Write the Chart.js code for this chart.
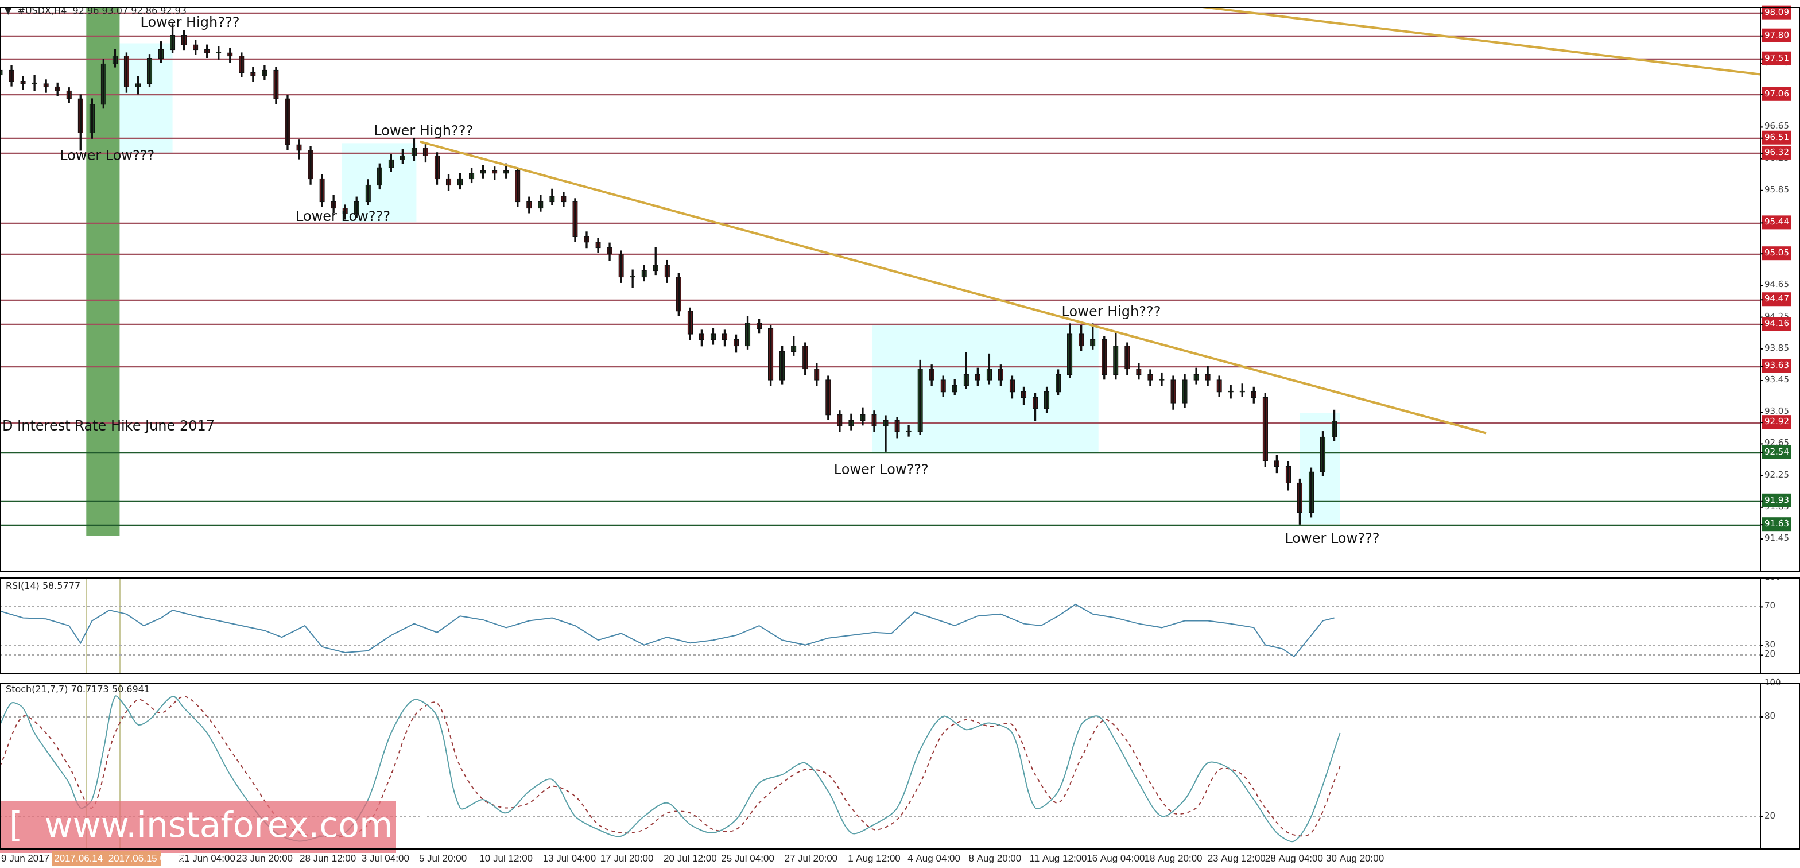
<!DOCTYPE html>
<html><head><meta charset="utf-8">
<script src="https://cdn.jsdelivr.net/npm/chart.js@4/dist/chart.umd.min.js"></script>
<style>
body{margin:0;background:#fff;overflow:hidden}
#wrap{position:absolute;left:0;top:0;width:1568px;height:756px;transform:scale(1.148);transform-origin:0 0;font-family:"DejaVu Sans",sans-serif}
canvas{position:absolute;left:0}
</style></head><body><div id="wrap">
<canvas id="cp" style="top:0;width:1568px;height:501px" width="1568" height="501"></canvas>
<canvas id="cr" style="top:503px;width:1568px;height:84px" width="1568" height="84"></canvas>
<canvas id="cs" style="top:589px;width:1568px;height:167px" width="1568" height="167"></canvas>
</div>
<script>
// ---- DATA ----
const firstOpen = 97.30;
const closes=[97.36,97.22,97.19,97.19,97.15,97.10,97.00,96.57,96.93,97.44,97.54,97.15,97.19,97.51,97.62,97.80,97.68,97.62,97.58,97.58,97.54,97.33,97.29,97.36,97.00,96.42,96.35,95.99,95.70,95.62,95.55,95.70,95.91,96.13,96.23,96.28,96.38,96.28,95.99,95.91,95.99,96.06,96.09,96.06,96.09,95.70,95.62,95.70,95.77,95.70,95.26,95.19,95.12,95.04,94.75,94.75,94.83,94.90,94.75,94.32,94.03,93.96,94.03,93.96,93.88,94.17,94.10,93.45,93.81,93.88,93.59,93.45,93.01,92.87,92.94,93.01,92.87,92.94,92.80,92.80,93.59,93.45,93.30,93.38,93.52,93.45,93.59,93.45,93.30,93.23,93.09,93.30,93.52,94.03,93.88,93.96,93.52,93.88,93.59,93.52,93.45,93.45,93.16,93.45,93.52,93.45,93.30,93.30,93.30,93.23,92.43,92.36,92.15,91.78,92.29,92.73,92.93];
const highs=[97.48,97.42,97.28,97.30,97.24,97.20,97.14,97.05,97.00,97.50,97.62,97.58,97.28,97.56,97.72,97.95,97.86,97.74,97.68,97.66,97.64,97.58,97.40,97.42,97.40,97.04,96.48,96.40,96.04,95.78,95.66,95.76,95.98,96.18,96.30,96.36,96.50,96.44,96.32,96.04,96.06,96.12,96.16,96.14,96.18,96.12,95.76,95.78,95.86,95.82,95.74,95.32,95.24,95.18,95.08,94.84,94.90,95.12,94.96,94.80,94.36,94.08,94.10,94.08,94.02,94.25,94.22,94.14,93.88,94.00,93.92,93.66,93.50,93.06,93.02,93.10,93.06,93.00,92.98,92.88,93.70,93.64,93.50,93.46,93.80,93.60,93.78,93.64,93.50,93.36,93.28,93.36,93.58,94.16,94.14,94.16,94.00,94.06,93.92,93.66,93.58,93.54,93.50,93.52,93.60,93.62,93.50,93.38,93.40,93.36,93.28,92.50,92.42,92.20,92.34,92.80,93.07];
const lows=[97.25,97.16,97.12,97.10,97.08,97.04,96.95,96.35,96.50,96.88,97.40,97.08,97.06,97.15,97.46,97.58,97.62,97.56,97.52,97.50,97.46,97.28,97.22,97.24,96.94,96.36,96.24,95.92,95.64,95.56,95.48,95.50,95.66,95.86,96.08,96.18,96.22,96.20,95.92,95.84,95.86,95.94,96.00,95.98,96.00,95.64,95.56,95.58,95.66,95.64,95.20,95.12,95.06,94.96,94.68,94.62,94.70,94.78,94.68,94.26,93.96,93.88,93.90,93.88,93.80,93.84,94.04,93.38,93.40,93.76,93.52,93.38,92.95,92.80,92.82,92.88,92.80,92.55,92.72,92.74,92.76,93.38,93.24,93.26,93.34,93.38,93.40,93.38,93.22,93.14,92.94,93.04,93.26,93.48,93.82,93.84,93.46,93.46,93.52,93.46,93.38,93.38,93.08,93.10,93.40,93.38,93.24,93.22,93.24,93.16,92.36,92.28,92.06,91.63,91.72,92.24,92.68];
const levelsRed=[98.09,97.80,97.51,97.06,96.51,96.32,95.44,95.05,94.47,94.16,93.63,92.92];
const levelsGreen=[92.54,91.93,91.63];
const priceTicks=[97.45,96.65,96.25,95.85,94.65,94.25,93.85,93.45,93.05,92.65,92.25,91.85,91.45];
const rsiX=[0,20,40,60,70,80,95,110,125,140,150,170,190,210,230,245,265,280,300,320,340,360,380,400,420,440,460,480,500,520,540,560,580,600,620,640,660,680,700,720,740,760,775,795,810,830,850,870,890,905,920,935,950,970,990,1010,1030,1050,1070,1090,1100,1115,1125,1140,1150,1160];
const rsiV=[65,58,57,50,32,55,66,62,50,58,66,60,55,50,45,38,50,28,22,24,40,52,43,60,56,48,55,58,50,35,42,30,38,32,35,40,50,35,30,37,40,43,42,64,58,50,60,62,52,50,60,72,62,58,52,48,55,55,52,48,30,26,18,40,55,58];
const stX=[0,10,20,30,50,60,70,80,90,100,110,120,130,150,160,180,200,220,240,260,280,300,320,340,360,380,400,420,440,460,480,500,520,540,560,580,600,620,640,660,680,700,720,740,760,780,800,820,840,860,880,900,920,940,955,970,990,1010,1030,1050,1070,1090,1110,1125,1140,1165];
const stMain=[75,88,85,70,50,40,25,30,60,92,85,75,78,92,85,70,45,25,10,5,8,10,30,70,90,80,25,30,22,35,42,20,12,8,20,28,15,10,18,40,45,52,35,10,15,25,60,80,72,76,70,25,35,75,80,65,40,20,30,52,48,30,10,5,20,70];
const sgX=[0,20,40,60,80,100,120,140,160,180,200,220,240,260,280,300,320,340,360,380,400,420,440,460,480,500,520,540,560,580,600,620,640,660,680,700,720,740,760,780,800,820,840,860,880,900,920,940,960,980,1000,1020,1040,1060,1080,1100,1120,1140,1165];
const stSig=[50,80,70,50,25,70,90,82,92,80,60,40,20,10,8,8,15,45,80,88,50,30,25,28,38,32,15,10,12,22,22,12,12,28,40,48,45,25,12,18,40,70,78,74,75,45,28,55,78,65,40,22,25,48,45,25,10,10,50];
const timeLabels=["9 Jun 2017","21 Jun 04:00","23 Jun 20:00","28 Jun 12:00","3 Jul 04:00","5 Jul 20:00","10 Jul 12:00","13 Jul 04:00","17 Jul 20:00","20 Jul 12:00","25 Jul 04:00","27 Jul 20:00","1 Aug 12:00","4 Aug 04:00","8 Aug 20:00","11 Aug 12:00","16 Aug 04:00","18 Aug 20:00","23 Aug 12:00","28 Aug 04:00","30 Aug 20:00"];
const timePos=[2.2,18.0,23.0,28.5,33.5,38.5,44.0,49.5,54.5,60.0,65.0,70.5,76.0,81.2,86.5,92.0,97.0,102.0,107.5,112.5,117.8];
const notes=[["Lower High???",12.2,97.95],["Lower Low???",5.2,96.27],["Lower High???",32.5,96.58],["Lower Low???",25.7,95.50],["Lower High???",92.3,94.30],["Lower Low???",72.5,92.31],["Lower Low???",111.7,91.44],["D Interest Rate Hike June 2017",0.2,92.86]];
const boxes=[[10.4,15.0,97.70,96.32],[29.7,36.2,96.44,95.45],[75.8,95.5,94.16,92.54],[113.0,116.5,93.03,91.63]];
const trend1=[[36.5,96.46],[129.2,92.78]];
const trend2=[[102.8,98.19],[153.5,97.30]];
const band=[7.5,10.4];
// ---- BUILD ----
const XMAX=153.0, PADR=35;
const opens=closes.map((c,i)=>i?closes[i-1]:firstOpen);
const wick=closes.map((c,i)=>({x:i,y:[lows[i],highs[i]]}));
const body=closes.map((c,i)=>({x:i,y:[opens[i],c===opens[i]?c+0.01:c]}));
const bodyCol=closes.map((c,i)=>c>=opens[i]?'#1f3f22':'#5b1a1c');
const xs=v=>v/10;
const xScale={type:'linear',min:0,max:XMAX,display:false,offset:false};
function baseOpts(ymin,ymax,extra){return Object.assign({responsive:false,animation:false,devicePixelRatio:2,
 layout:{padding:{left:0,right:PADR,top:0,bottom:0}},
 plugins:{legend:{display:false},tooltip:{enabled:false}},
 scales:{x:xScale,y:{min:ymin,max:ymax,display:false}}},extra||{});}
function frame(ch,ctx){const a=ch.chartArea;ctx.save();ctx.strokeStyle='#000';ctx.lineWidth=1;ctx.strokeRect(a.left+0.5,a.top+0.5,a.right-a.left+PADR-1,a.bottom-a.top-1);ctx.beginPath();ctx.moveTo(a.right+0.5,a.top);ctx.lineTo(a.right+0.5,a.bottom);ctx.stroke();ctx.restore();}
function rlabel(ctx,a,y,txt,bg,fg){ctx.font='7.5px "DejaVu Sans"';ctx.textBaseline='middle';ctx.textAlign='left';
 if(bg){const w=ctx.measureText(txt).width+4;ctx.fillStyle=bg;ctx.fillRect(a.right+2,y-6,w,12);ctx.fillStyle=fg;}else ctx.fillStyle='#444';
 ctx.fillText(txt,a.right+4,y);ctx.fillStyle='#000';ctx.fillRect(a.right,y,3,1);}
const pricePlug={id:'pp',
 beforeDatasetsDraw(ch){const ctx=ch.ctx,a=ch.chartArea,X=ch.scales.x,Y=ch.scales.y;ctx.save();
  ctx.beginPath();ctx.rect(a.left,a.top,a.right-a.left,a.bottom-a.top);ctx.clip();
  ctx.fillStyle='#e0ffff';boxes.forEach(b=>{const x1=X.getPixelForValue(b[0]),x2=X.getPixelForValue(b[1]),y1=Y.getPixelForValue(b[2]),y2=Y.getPixelForValue(b[3]);ctx.fillRect(x1,y1,x2-x1,y2-y1);});
  ctx.fillStyle='#6faa66';const b1=X.getPixelForValue(band[0]),b2=X.getPixelForValue(band[1]);ctx.fillRect(b1,a.top,b2-b1,Y.getPixelForValue(91.48)-a.top);
  ctx.lineWidth=1.3;levelsRed.forEach(v=>{ctx.strokeStyle='#a0505c';const y=Math.round(Y.getPixelForValue(v))+0.5;ctx.beginPath();ctx.moveTo(a.left,y);ctx.lineTo(a.right,y);ctx.stroke();});
  levelsGreen.forEach(v=>{ctx.strokeStyle='#1f5a2c';const y=Math.round(Y.getPixelForValue(v))+0.5;ctx.beginPath();ctx.moveTo(a.left,y);ctx.lineTo(a.right,y);ctx.stroke();});
  ctx.restore();},
 afterDatasetsDraw(ch){const ctx=ch.ctx,a=ch.chartArea,X=ch.scales.x,Y=ch.scales.y;ctx.save();
  ctx.beginPath();ctx.rect(a.left,a.top,a.right-a.left,a.bottom-a.top);ctx.clip();
  ctx.strokeStyle='#d4aa40';ctx.lineWidth=2;[trend1,trend2].forEach(t=>{ctx.beginPath();ctx.moveTo(X.getPixelForValue(t[0][0]),Y.getPixelForValue(t[0][1]));ctx.lineTo(X.getPixelForValue(t[1][0]),Y.getPixelForValue(t[1][1]));ctx.stroke();});
  ctx.fillStyle='#111';ctx.font='12px "DejaVu Sans"';ctx.textBaseline='middle';ctx.textAlign='left';
  notes.forEach(n=>ctx.fillText(n[0],X.getPixelForValue(n[1]),Y.getPixelForValue(n[2])));
  ctx.font='8px "DejaVu Sans"';ctx.fillStyle='#222';ctx.fillText('▼  #USDX,H4  92.96 93.07 92.86 92.93',4,a.top+4);
  ctx.restore();
  ctx.save();priceTicks.forEach(v=>rlabel(ctx,a,Y.getPixelForValue(v),v.toFixed(2)));
  levelsRed.forEach(v=>rlabel(ctx,a,Y.getPixelForValue(v),v.toFixed(2),'#c8202c','#fff'));
  levelsGreen.forEach(v=>rlabel(ctx,a,Y.getPixelForValue(v),v.toFixed(2),'#1e6a2a','#fff'));
  ctx.restore();frame(ch,ctx);}};
new Chart(document.getElementById('cp'),{type:'bar',
 data:{datasets:[{data:wick,backgroundColor:'#111',barThickness:1,grouped:false},
  {data:body,backgroundColor:bodyCol,borderColor:'#111',borderWidth:0.6,barThickness:4,grouped:false,borderSkipped:false}]},
 options:baseOpts(91.03,98.16,{layout:{padding:{left:0,right:PADR,top:6,bottom:3}}}),plugins:[pricePlug]});
function vlines(ch){const ctx=ch.ctx,a=ch.chartArea,X=ch.scales.x;ctx.save();ctx.strokeStyle='#c8c89a';ctx.lineWidth=1;band.forEach(b=>{const x=Math.round(X.getPixelForValue(b))+0.5;ctx.beginPath();ctx.moveTo(x,a.top);ctx.lineTo(x,a.bottom);ctx.stroke();});ctx.restore();}
function dots(ch,vals){const ctx=ch.ctx,a=ch.chartArea,Y=ch.scales.y;ctx.save();ctx.strokeStyle='#aaa';ctx.setLineDash([2,2]);vals.forEach(v=>{const y=Math.round(Y.getPixelForValue(v))+0.5;ctx.beginPath();ctx.moveTo(a.left,y);ctx.lineTo(a.right,y);ctx.stroke();});ctx.restore();}
const rsiPlug={id:'rp',beforeDatasetsDraw(ch){vlines(ch);dots(ch,[70,30,20]);},afterDatasetsDraw(ch){const ctx=ch.ctx,a=ch.chartArea,Y=ch.scales.y;ctx.save();ctx.font='8px "DejaVu Sans"';ctx.fillStyle='#222';ctx.textBaseline='middle';ctx.fillText('RSI(14) 58.5777',5,a.top+8);[100,70,30,20].forEach(v=>rlabel(ctx,a,Y.getPixelForValue(v),String(v)));ctx.restore();frame(ch,ctx);}};
new Chart(document.getElementById('cr'),{type:'line',
 data:{datasets:[{data:rsiX.map((x,i)=>({x:xs(x),y:rsiV[i]})),borderColor:'#4a88aa',borderWidth:1,pointRadius:0,tension:0}]},
 options:baseOpts(0,100,{layout:{padding:{left:0,right:PADR,top:0,bottom:0}}}),plugins:[rsiPlug]});
const stPlug={id:'sp',beforeDatasetsDraw(ch){vlines(ch);dots(ch,[80,20]);},afterDatasetsDraw(ch){const ctx=ch.ctx,a=ch.chartArea,X=ch.scales.x,Y=ch.scales.y;ctx.save();
 ctx.fillStyle='rgba(230,110,120,0.75)';ctx.fillRect(0,a.top+103,345,45);
 ctx.fillStyle='#fff';ctx.font='30px "DejaVu Sans"';ctx.textBaseline='middle';ctx.fillText('[  www.instaforex.com  ]',8,a.top+126);
 ctx.font='8px "DejaVu Sans"';ctx.fillStyle='#222';ctx.fillText('Stoch(21,7,7) 70.7173 50.6941',5,a.top+6);
 [100,80,20].forEach(v=>rlabel(ctx,a,Y.getPixelForValue(v),String(v)));
 ctx.fillStyle='#e8a070';ctx.fillRect(X.getPixelForValue(4.5),a.bottom+1,95,13);
 ctx.font='8.5px "Liberation Sans"';ctx.fillStyle='#222';ctx.textBaseline='top';ctx.textAlign='center';timeLabels.forEach((t,i)=>ctx.fillText(t,X.getPixelForValue(timePos[i]),a.bottom+4));
 ctx.textAlign='left';ctx.fillStyle='#fff';ctx.fillText('2017.06.14  2017.06.15 08:00',X.getPixelForValue(4.7),a.bottom+4);
 ctx.restore();frame(ch,ctx);}};
new Chart(document.getElementById('cs'),{type:'line',
 data:{datasets:[{data:stX.map((x,i)=>({x:xs(x),y:stMain[i]})),borderColor:'#5aa0a8',borderWidth:1,pointRadius:0,tension:0.3},
  {data:sgX.map((x,i)=>({x:xs(x),y:stSig[i]})),borderColor:'#9a3a3a',borderWidth:1,borderDash:[3,3],pointRadius:0,tension:0.3}]},
 options:baseOpts(0,100,{layout:{padding:{left:0,right:PADR,top:6,bottom:16}}}),plugins:[stPlug]});
</script></body></html>
